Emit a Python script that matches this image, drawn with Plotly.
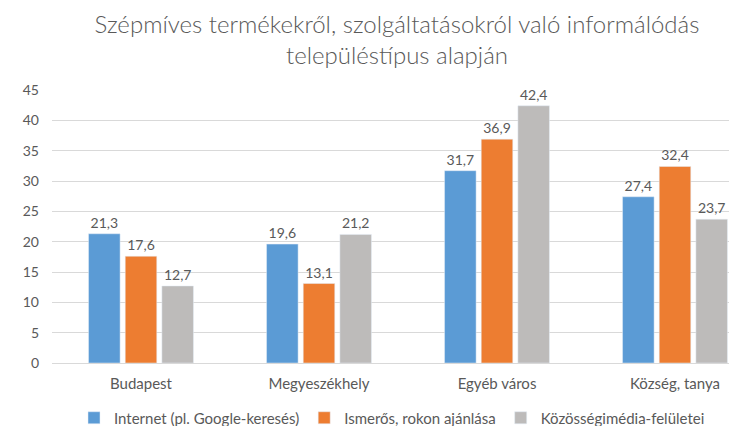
import plotly.graph_objects as go

categories = ["Budapest", "Megyeszékhely", "Egyéb város", "Község, tanya"]
series_names = ["Internet (pl. Google-keresés)", "Ismerős, rokon ajánlása", "Közösségimédia-felületei"]
internet = [21.3, 19.6, 31.7, 27.4]
ismeros = [17.6, 13.1, 36.9, 32.4]
kozossegi = [12.7, 21.2, 42.4, 23.7]
colors = ["#5B9BD5", "#ED7D31", "#BDBBBA"]
y_ticks = [0, 5, 10, 15, 20, 25, 30, 35, 40, 45]

FONT = "Lato"
GREY = "#595959"

fig = go.Figure()
for name, vals, col in zip(series_names, [internet, ismeros, kozossegi], colors):
    fig.add_trace(go.Bar(
        x=categories, y=vals, name=name, marker_color=col,
        text=[f"{v:.1f}".replace(".", ",") for v in vals],
        textposition="outside", textfont=dict(color=GREY, size=14, family=FONT),
        cliponaxis=False,
    ))

fig.update_layout(
    width=729, height=426,
    margin=dict(l=52, r=0, t=90, b=63, autoexpand=False),
    paper_bgcolor="white", plot_bgcolor="white",
    barmode="group", bargap=0.382, bargroupgap=0.14,
    font=dict(family=FONT, color=GREY, size=14),
    title=dict(
        text="Szépmíves termékekről, szolgáltatásokról való informálódás<br>településtípus alapján",
        x=397/729, xanchor="center", y=1 - 33/426, yanchor="top",
        font=dict(size=24, color=GREY, family=FONT, weight=300),
    ),
    xaxis=dict(range=[-0.5, 3.5 - 35/178], showgrid=False, showline=False, automargin=False,
               ticks="", tickfont=dict(size=15, color=GREY), ticklabelstandoff=10),
    yaxis=dict(range=[0, 45], tickvals=y_ticks, showgrid=True, gridcolor="#D9D9D9",
               gridwidth=1, zeroline=True, zerolinecolor="#D9D9D9", zerolinewidth=1,
               automargin=False,
               ticks="", tickfont=dict(size=14, color=GREY), ticklabelstandoff=12),
    legend=dict(orientation="h", x=(74-52)/677, xanchor="left", y=(363-418)/273, yanchor="middle",
                font=dict(size=15, color=GREY), itemwidth=30, tracegroupgap=0),
    showlegend=True,
)

fig.write_html(
    "out.html",
    config={"displayModeBar": False},
    post_script="document.body.style.margin='0';document.body.style.overflow='hidden';",
)
